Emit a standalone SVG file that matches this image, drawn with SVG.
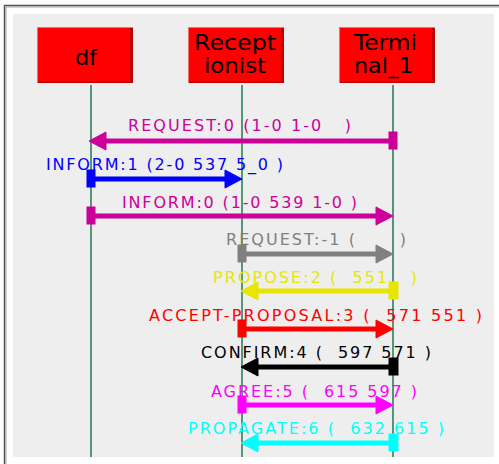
<svg xmlns="http://www.w3.org/2000/svg" width="499" height="464" viewBox="0 0 499 464">
<style>
.frame{fill:none;stroke:#555555;stroke-width:1.5}
.frame2{fill:none;stroke:#aaaaaa;stroke-width:1}
.panel{fill:#eeeeee}
.box{fill:#ff0000;stroke:#f07070;stroke-width:1}
.shade{fill:#c00000}
.name{font-family:"DejaVu Sans","Liberation Sans",sans-serif;font-size:21px;fill:#000000;text-anchor:start}
.life{stroke:#2f7f5a;stroke-width:1.6}
.lbl{font-family:"DejaVu Sans","Liberation Sans",sans-serif;font-size:16px;white-space:pre}
.ln{stroke-width:5;fill:none}
.c1{stroke:#cc0099;fill:#cc0099}
.c2{stroke:#0000ff;fill:#0000ff}
.c3{stroke:#808080;fill:#808080}
.c4{stroke:#e6e600;fill:#e6e600}
.c5{stroke:#ff0000;fill:#ff0000}
.c6{stroke:#000000;fill:#000000}
.c7{stroke:#ff00ff;fill:#ff00ff}
.c8{stroke:#00ffff;fill:#00ffff}
.t{stroke:none}
</style>
<rect x="0" y="0" width="499" height="464" fill="#ffffff"/>
<path class="frame2" d="M6 464 V7 H499"/>
<path class="frame" d="M4.5 464 V5.5 H499"/>
<rect class="panel" x="13" y="14" width="481" height="443"/>

<g id="node-df">
<rect class="box" x="37.5" y="27.5" width="95" height="55"/>
<rect class="shade" x="130" y="28" width="3" height="55"/>
<rect class="shade" x="38" y="81.5" width="95" height="1.5"/>
<text class="name" x="75" y="65" textLength="22" lengthAdjust="spacingAndGlyphs">df</text>
</g>
<g id="node-receptionist">
<rect class="box" x="188.5" y="27.5" width="95" height="55"/>
<rect class="shade" x="281" y="28" width="3" height="55"/>
<rect class="shade" x="189" y="81.5" width="95" height="1.5"/>
<text class="name" x="194" y="50" textLength="82" lengthAdjust="spacingAndGlyphs">Recept</text>
<text class="name" x="204" y="73" textLength="62" lengthAdjust="spacingAndGlyphs">ionist</text>
</g>
<g id="node-terminal">
<rect class="box" x="339.5" y="27.5" width="95" height="55"/>
<rect class="shade" x="432" y="28" width="3" height="55"/>
<rect class="shade" x="340" y="81.5" width="95" height="1.5"/>
<text class="name" x="354" y="50" textLength="63" lengthAdjust="spacingAndGlyphs">Termi</text>
<text class="name" x="354" y="73" textLength="59" lengthAdjust="spacingAndGlyphs">nal_1</text>
</g>

<g id="lifelines">
<line class="life" x1="91" y1="85" x2="91" y2="457"/>
<line class="life" x1="242" y1="85" x2="242" y2="457"/>
<line class="life" x1="393" y1="85" x2="393" y2="457"/>
</g>

<g id="connectors">
<g class="c1">
<line class="ln" x1="393" y1="141" x2="104" y2="141"/>
<polygon points="89,141 106,132 106,150"/>
<rect x="389" y="132" width="8" height="17"/>
<text class="lbl t" x="128" y="131" textLength="223" lengthAdjust="spacing">REQUEST:0 (1-0 1-0   )</text>
</g>
<g class="c2">
<line class="ln" x1="91" y1="179" x2="228" y2="179"/>
<polygon points="242,179 225,170 225,188"/>
<rect x="87" y="170" width="8" height="17"/>
<text class="lbl t" x="46" y="170" textLength="237" lengthAdjust="spacing">INFORM:1 (2-0 537 5_0 )</text>
</g>
<g class="c1">
<line class="ln" x1="91" y1="216" x2="379" y2="216"/>
<polygon points="393,216 376,207 376,225"/>
<rect x="87" y="207" width="8" height="17"/>
<text class="lbl t" x="122" y="208" textLength="235" lengthAdjust="spacing">INFORM:0 (1-0 539 1-0 )</text>
</g>
<g class="c3">
<line class="ln" x1="242" y1="254" x2="379" y2="254"/>
<polygon points="393,254 376,245 376,263"/>
<rect x="238" y="245" width="8" height="17"/>
<text class="lbl t" x="226" y="245" textLength="180" lengthAdjust="spacing">REQUEST:-1 (      )</text>
</g>
<g class="c4">
<line class="ln" x1="393" y1="291" x2="255" y2="291"/>
<polygon points="241,291 258,282 258,300"/>
<rect x="389" y="282" width="9" height="17"/>
<text class="lbl t" x="213" y="283" textLength="204" lengthAdjust="spacing">PROPOSE:2 (  551   )</text>
</g>
<g class="c5">
<line class="ln" x1="242" y1="329" x2="379" y2="329"/>
<polygon points="393,329 376,320 376,338"/>
<rect x="238" y="320" width="8" height="17"/>
<text class="lbl t" x="149" y="321" textLength="333" lengthAdjust="spacing">ACCEPT-PROPOSAL:3 (  571 551 )</text>
</g>
<g class="c6">
<line class="ln" x1="393" y1="367" x2="255" y2="367"/>
<polygon points="241,367 258,358 258,376"/>
<rect x="389" y="358" width="9" height="17"/>
<text class="lbl t" x="201" y="358" textLength="230" lengthAdjust="spacing">CONFIRM:4 (  597 571 )</text>
</g>
<g class="c7">
<line class="ln" x1="242" y1="405" x2="379" y2="405"/>
<polygon points="393,405 376,396 376,414"/>
<rect x="238" y="396" width="8" height="17"/>
<text class="lbl t" x="211" y="397" textLength="206" lengthAdjust="spacing">AGREE:5 (  615 597 )</text>
</g>
<g class="c8">
<line class="ln" x1="393" y1="443" x2="255" y2="443"/>
<polygon points="241,443 258,434 258,452"/>
<rect x="389" y="434" width="9" height="17"/>
<text class="lbl t" x="188" y="434" textLength="256" lengthAdjust="spacing">PROPAGATE:6 (  632 615 )</text>
</g>
</g>
</svg>
